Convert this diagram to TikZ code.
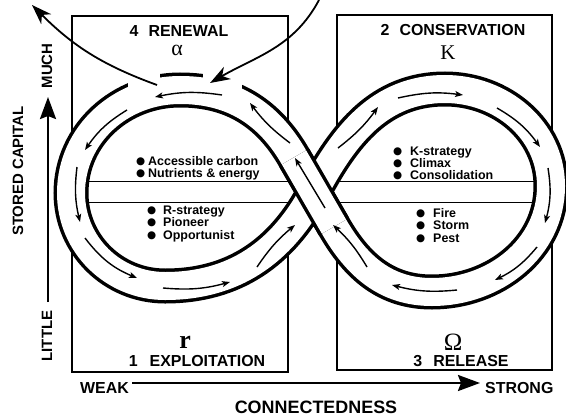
\documentclass[tikz,border=0pt]{standalone}
\usepackage{fontspec}
\setmainfont{Liberation Sans}
\newfontfamily\serf{Liberation Serif}
\newfontfamily\symf{DejaVu Sans}
\usetikzlibrary{arrows.meta}
\newcommand\blt[1]{\makebox[#1][l]{\raisebox{0.6bp}{\symf\fontsize{10.5}{10.5}\selectfont ●}}}
\begin{document}
\begin{tikzpicture}[x=1bp,y=1bp,
  box/.style={draw,line width=1.4bp},
  divline/.style={line width=1bp},
  bandstyle/.style={line width=28bp,white,preaction={draw,black,line width=35bp}},
  flow/.style={line width=1.4bp,-{Stealth[length=8bp,width=6bp,inset=2bp]}},
  bigarrow/.style={line width=1.8bp,-{Stealth[length=20bp,width=14bp,inset=6bp]}},
  axis/.style={line width=2.4bp,-{Stealth[length=22bp,width=16bp,inset=3bp]}},
  lab/.style={inner sep=0,anchor=base,font=\fontsize{16}{16}\selectfont\bfseries},
  axlab/.style={inner sep=0,font=\fontsize{15}{15}\selectfont\bfseries},
  item/.style={inner sep=0,anchor=base west,font=\fontsize{12.5}{12}\selectfont\bfseries},
  sym/.style={inner sep=0,anchor=base,font=\serf\fontsize{22}{22}\selectfont}]
\fill[white] (0,0) rectangle (566,418);
\useasboundingbox (0,0) rectangle (566,418);

% quadrant boxes
\draw[box] (72,46) rectangle (288,402);
\draw[box] (337,48) rectangle (552,403);

% centre line of the figure-eight band
\coordinate (L3) at (165,132);
\coordinate (C) at (314,226);
\coordinate (R1) at (445,329);
\coordinate (R2) at (551,232);
\coordinate (R3) at (432,126);
\coordinate (D1) at (334,191.4);
\coordinate (D2) at (294,260.6);
\coordinate (L1) at (180,328);
\coordinate (L2) at (71,225);

% white interior of both loops (hides the box edges there)
\fill[white] (L3) to[out=0,in=242] (C) to[out=62,in=180] (R1)
  to[out=0,in=90] (R2) to[out=270,in=0] (R3) to[out=180,in=-60] (D1)
  -- (D2) to[out=120,in=0] (L1) to[out=180,in=90] (L2)
  to[out=270,in=180] (L3) -- cycle;

% dividing rules inside the loops
\draw[divline] (72,237) -- (552,237);
\draw[divline] (72,216) -- (552,216);

% the band
\draw[bandstyle] (L3) to[out=0,in=242] (C) to[out=62,in=180] (R1)
  to[out=0,in=90] (R2) to[out=270,in=0] (R3) to[out=180,in=-60] (D1)
  -- (D2) to[out=120,in=0] (L1) to[out=180,in=90] (L2)
  to[out=270,in=180] (L3) -- cycle;
% strand on top at the crossing
\draw[bandstyle] (D1) -- (D2);
% openings in the outer edge at the top of the left loop
\fill[white] (128,322) rectangle (160,353);
\fill[white] (203,322) rectangle (242,353);

% flow arrows inside the band
\coordinate (a1s) at (85,180);   \coordinate (a1e) at (137,140);
\coordinate (a2s) at (163,130);  \coordinate (a2e) at (230,136);
\coordinate (a3s) at (257,151);  \coordinate (a3e) at (295,193);
\coordinate (a4s) at (338,270);  \coordinate (a4e) at (378,311);
\coordinate (a5s) at (398,320);  \coordinate (a5e) at (463,323);
\coordinate (a6s) at (497,310);  \coordinate (a6e) at (540,271);
\coordinate (a7s) at (548,250);  \coordinate (a7e) at (545,195);
\coordinate (a8s) at (537,171);  \coordinate (a8e) at (495,138);
\coordinate (a9s) at (457,128);  \coordinate (a9e) at (392,133);
\coordinate (a10s) at (367,151); \coordinate (a10e) at (333,193);
\coordinate (a11s) at (325,210); \coordinate (a11e) at (295,260);
\coordinate (a12s) at (290,275); \coordinate (a12e) at (250,315);
\coordinate (a13s) at (222,323); \coordinate (a13e) at (155,321);
\coordinate (a14s) at (127,308); \coordinate (a14e) at (85,268);
\coordinate (a15s) at (77,251);  \coordinate (a15e) at (80,196);
\draw[flow] (a1s) to[bend right=15] (a1e);
\draw[flow] (a2s) to[bend right=10] (a2e);
\draw[flow] (a3s) to[bend left=8] (a3e);
\draw[flow] (a4s) to[bend right=8] (a4e);
\draw[flow] (a5s) to[bend left=10] (a5e);
\draw[flow] (a6s) to[bend left=12] (a6e);
\draw[flow] (a7s) to[bend left=12] (a7e);
\draw[flow] (a8s) to[bend left=12] (a8e);
\draw[flow] (a9s) to[bend left=10] (a9e);
\draw[flow] (a10s) to[bend right=8] (a10e);
\draw[flow] (a11s) -- (a11e);
\draw[flow] (a12s) to[bend left=8] (a12e);
\draw[flow] (a13s) to[bend right=10] (a13e);
\draw[flow] (a14s) to[bend right=12] (a14e);
\draw[flow] (a15s) to[bend right=10] (a15e);

% escape / entry arrows at the renewal phase
\coordinate (inS) at (319,418);  \coordinate (inE) at (210,335);
\coordinate (outS) at (157,333); \coordinate (outE) at (32,413);
\draw[bigarrow] (inS) to[out=-118,in=30] (inE);
\draw[bigarrow] (outS) to[out=160,in=-45] (outE);

% quadrant labels
\node[lab] (ren) at (179,382) {4\hspace{10bp}RENEWAL};
\node[sym] (alpha) at (177,363) {α};
\node[lab] (cons) at (453,383) {2\hspace{10bp}CONSERVATION};
\node[sym,font=\serf\fontsize{21}{21}\selectfont] (kk) at (448,359) {K};
\node[sym,font=\serf\bfseries\fontsize{26}{26}\selectfont] (rr) at (185,70) {r};
\node[lab] (expl) at (197,52) {1\hspace{12bp}EXPLOITATION};
\node[sym,font=\serf\fontsize{25}{25}\selectfont] (om) at (453,68) {Ω};
\node[lab] (rel) at (461,52) {3\hspace{11bp}RELEASE};

% loop contents
\node[item] (i1) at (136,253) {\blt{12bp}Accessible carbon};
\node[item] (i2) at (136,241) {\blt{12bp}Nutrients \& energy};
\node[item] (i3) at (147,204) {\blt{16bp}R-strategy};
\node[item] (i4) at (147,192) {\blt{16bp}Pioneer};
\node[item] (i5) at (147,179) {\blt{16bp}Opportunist};
\node[item] (i6) at (393,263) {\blt{17bp}K-strategy};
\node[item] (i7) at (393,251) {\blt{17bp}Climax};
\node[item] (i8) at (393,239) {\blt{17bp}Consolidation};
\node[item] (i9) at (416,201) {\blt{17bp}Fire};
\node[item] (i10) at (416,189) {\blt{17bp}Storm};
\node[item] (i11) at (416,176) {\blt{17bp}Pest};

% axes
\coordinate (yA) at (48,116); \coordinate (yB) at (48,321);
\coordinate (xA) at (132,35); \coordinate (xB) at (480,35);
\draw[axis] (yA) -- (yB);
\draw[axis] (xA) -- (xB);
\node[lab,anchor=base west] (weak) at (80,25) {WEAK};
\node[lab,anchor=base west] (strong) at (485,25) {STRONG};
\node[lab,font=\fontsize{18}{18}\selectfont\bfseries] (conn) at (316,5) {CONNECTEDNESS};
\node[axlab,rotate=90] (stored) at (18,247) {STORED CAPITAL};
\node[axlab,rotate=90] (much) at (47,352) {MUCH};
\node[axlab,rotate=90] (little) at (47,82) {LITTLE};
\end{tikzpicture}
\end{document}
